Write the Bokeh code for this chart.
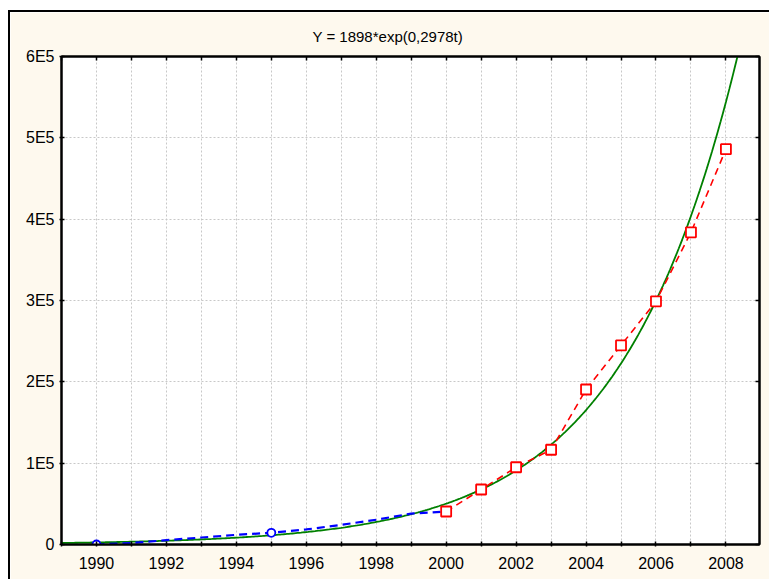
import numpy as np
from bokeh.plotting import figure
from bokeh.models import FixedTicker, LinearAxis, Range1d, Title
from bokeh.embed import file_html
from bokeh.resources import INLINE

# ---- data ----
title_text = "Y = 1898*exp(0,2978t)"
fit_a = 1898.0
fit_b = 0.2978
fit_t0 = 1989

blue_years = [1990, 1991, 1992, 1993, 1994, 1995, 1996, 1997, 1998, 1999, 2000]
blue_values = [0, 1800, 5300, 8600, 11900, 14400, 18500, 24200, 30400, 38000, 40600]
blue_marker_years = [1990, 1995]
blue_marker_values = [0, 14400]

red_years = [2000, 2001, 2002, 2003, 2004, 2005, 2006, 2007, 2008]
red_values = [40600, 67600, 95000, 116500, 190600, 244800, 299000, 383800, 486000]

x_ticks = list(range(1989, 2010))
x_label_years = list(range(1990, 2009, 2))
x_minor_years = [y for y in x_ticks if y not in x_label_years]
y_ticks = [0, 100000, 200000, 300000, 400000, 500000, 600000]
y_tick_labels = ["0", "1E5", "2E5", "3E5", "4E5", "5E5", "6E5"]

# fitted curve from the formula shown in the title
fit_x = np.linspace(1989, 2009, 401)
fit_y = fit_a * np.exp(fit_b * (fit_x - fit_t0))

FONT = "Liberation Sans"
CREAM = "#fef9ee"

p = figure(width=761, height=569,
           x_range=Range1d(1989, 2008.96), y_range=Range1d(0, 600000),
           output_backend="svg", toolbar_location=None,
           min_border_left=51, min_border_right=12, min_border_top=44, min_border_bottom=37,
           background_fill_color="white", border_fill_color=CREAM,
           outline_line_color="black", outline_line_width=2)
p.styles = {"margin-left": "8px", "margin-top": "10px",
            "border-top": "2px solid black", "border-left": "2px solid black"}

p.title = Title(text=title_text, align="left", offset=251, standoff=24,
                text_font_size="15px", text_font=FONT,
                text_font_style="normal", text_color="black")

xa = p.xaxis[0]
xa.ticker = FixedTicker(ticks=x_label_years, minor_ticks=x_minor_years)
ya = p.yaxis[0]
ya.ticker = FixedTicker(ticks=y_ticks)
ya.major_label_overrides = {v: l for v, l in zip(y_ticks, y_tick_labels)}

for ax in (xa, ya):
    ax.major_label_text_font = FONT
    ax.major_label_text_font_size = "16px"
    ax.major_label_text_color = "black"
    ax.axis_line_color = "black"
    ax.axis_line_width = 2
    ax.major_tick_line_color = "black"
    ax.major_tick_line_width = 1.5
    ax.major_tick_in = 3
    ax.major_tick_out = 2
    ax.minor_tick_line_color = "black"
    ax.minor_tick_line_width = 1.5
    ax.minor_tick_in = 3
    ax.minor_tick_out = 2
xa.major_label_standoff = 10
ya.major_label_standoff = 5

# tick-only axes on top and right (ticks as minor ticks, so no labels at all)
top = LinearAxis(ticker=FixedTicker(ticks=[], minor_ticks=x_ticks),
                 axis_line_color="black", axis_line_width=2,
                 minor_tick_in=4, minor_tick_out=0, minor_tick_line_width=1.5,
                 minor_tick_line_color="black", major_label_standoff=0)
right = LinearAxis(ticker=FixedTicker(ticks=[], minor_ticks=y_ticks),
                   axis_line_color="black", axis_line_width=2,
                   minor_tick_in=4, minor_tick_out=0, minor_tick_line_width=1.5,
                   minor_tick_line_color="black", major_label_standoff=0)
p.add_layout(top, "above")
p.add_layout(right, "right")

p.xgrid.ticker = FixedTicker(ticks=x_ticks)
p.ygrid.ticker = FixedTicker(ticks=y_ticks)
for g in (p.xgrid[0], p.ygrid[0]):
    g.grid_line_color = "#c8c8c8"
    g.grid_line_dash = "2 2"
    g.grid_line_width = 1

p.line(fit_x, fit_y, line_color="#008000", line_width=1.8)
p.line(blue_years, blue_values, line_color="#0000ff", line_width=2.2, line_dash="8 5")
p.scatter(blue_marker_years, blue_marker_values, marker="circle", size=8,
          line_color="#0000ff", line_width=1.8, fill_color="white")
p.line(red_years, red_values, line_color="#ff0000", line_width=1.6, line_dash="7 5")
p.scatter(red_years, red_values, marker="square", size=10,
          line_color="#ff0000", line_width=1.8, fill_color="white")

open("out.html", "w").write(file_html(p, INLINE))
